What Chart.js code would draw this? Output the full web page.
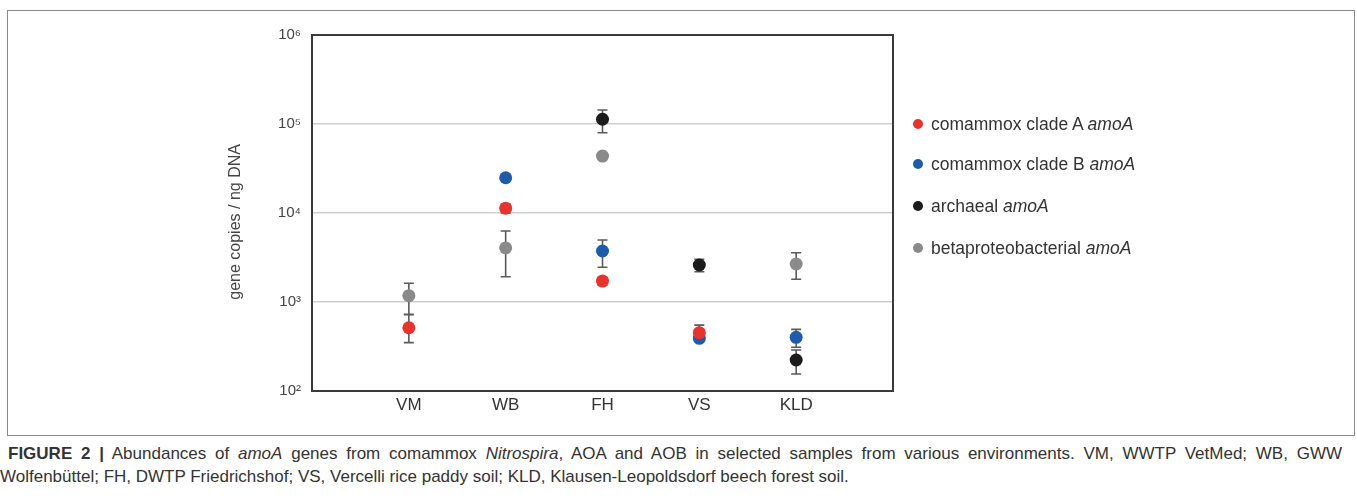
<!DOCTYPE html>
<html lang="en">
<head>
<meta charset="utf-8">
<title>amoA abundances</title>
<script src="https://cdn.jsdelivr.net/npm/chart.js@4/dist/chart.umd.min.js"></script>
<style>
    body { margin: 0; background: #fff; }
    #wrap { position: relative; width: 1357px; height: 502px; overflow: hidden;
            font-family: 'Liberation Sans', Arial, sans-serif; color: #333; }
    #frame { position: absolute; left: 7px; top: 10px; width: 1346px; height: 424px;
             border: 1.5px solid #8a8a8a; }
    #chart { position: absolute; left: 0; top: 0; }
    .leg { position: absolute; left: 913px; font-size: 17.5px; white-space: nowrap; color: #333; }
    .leg span.dot { display: inline-block; width: 10px; height: 10px; border-radius: 50%;
                    margin-right: 8px; vertical-align: 1px; }
    .cap { position: absolute; font-size: 17px; white-space: nowrap; color: #333; }
    #cap1 { left: 8px; top: 444px; width: 1334px; text-align: justify; text-align-last: justify; white-space: normal; }
    #cap2 { left: 0; top: 467px; }
</style>
</head>
<body>
<div id="wrap">
    <div id="frame"></div>
    <canvas id="chart" width="1357" height="440"></canvas>
    <div id="legend"></div>
    <div class="cap" id="cap1"><b>FIGURE 2 |</b> Abundances of <i>amoA</i> genes from comammox <i>Nitrospira</i>, AOA and AOB in selected samples from various environments. VM, WWTP VetMed; WB, GWW</div>
    <div class="cap" id="cap2">Wolfenbüttel; FH, DWTP Friedrichshof; VS, Vercelli rice paddy soil; KLD, Klausen-Leopoldsdorf beech forest soil.</div>
</div>

<script>
// sample sites
var categories = ['VM', 'WB', 'FH', 'VS', 'KLD'];

// gene copies / ng DNA (means, lower and upper ends of error bars)
var cladeA    = [514,  11300, 1720,   452,  null];
var cladeALow = [350,  10000, 1550,   400,  null];
var cladeAHigh= [720,  12600, 1900,   550,  null];

var cladeB    = [null, 24900, 3740,   391,  401];
var cladeBLow = [null, 24900, 2455,   370,  310];
var cladeBHigh= [null, 24900, 4980,   420,  493];

var archaeal    = [null, null, 113000, 2605, 223];
var archaealLow = [null, null, 79800,  2190, 155];
var archaealHigh= [null, null, 143600, 3020, 289];

var beta    = [1178, 4050, 43600, null, 2673];
var betaLow = [728,  1923, 40500, null, 1800];
var betaHigh= [1622, 6280, 47000, null, 3580];

var yTicks = [100, 1000, 10000, 100000, 1000000];
var yTickLabels = ['10²', '10³', '10⁴', '10⁵', '10⁶'];

var series = [
    { name: 'comammox clade A', color: '#e8322b', values: cladeA, low: cladeALow, high: cladeAHigh },
    { name: 'comammox clade B', color: '#1d5cab', values: cladeB, low: cladeBLow, high: cladeBHigh },
    { name: 'archaeal', color: '#1b1b1b', values: archaeal, low: archaealLow, high: archaealHigh },
    { name: 'betaproteobacterial', color: '#8a8a8a', values: beta, low: betaLow, high: betaHigh }
];

Chart.defaults.font.family = "'Liberation Sans', Arial, sans-serif";
Chart.defaults.color = '#333';

function toPoints(values) {
    var pts = [];
    values.forEach(function(v, i) {
        if (v !== null) pts.push({ x: i + 1, y: v });
    });
    return pts;
}

var errorBars = {
    id: 'errorBars',
    beforeDatasetsDraw: function(chart) {
        var ctx = chart.ctx, xs = chart.scales.x, ys = chart.scales.y;
        ctx.save();
        ctx.strokeStyle = '#5a5a5a';
        ctx.lineWidth = 1.6;
        series.forEach(function(s) {
            s.values.forEach(function(v, i) {
                if (v === null || s.low[i] === s.high[i]) return;
                var x = xs.getPixelForValue(i + 1);
                var y1 = ys.getPixelForValue(s.low[i]);
                var y2 = ys.getPixelForValue(s.high[i]);
                ctx.beginPath();
                ctx.moveTo(x, y1); ctx.lineTo(x, y2);
                ctx.moveTo(x - 5, y1); ctx.lineTo(x + 5, y1);
                ctx.moveTo(x - 5, y2); ctx.lineTo(x + 5, y2);
                ctx.stroke();
            });
        });
        ctx.restore();
    }
};

var plotBox = {
    id: 'plotBox',
    afterDraw: function(chart) {
        var a = chart.chartArea, ctx = chart.ctx;
        ctx.save();
        ctx.strokeStyle = '#3a3a3a';
        ctx.lineWidth = 2;
        ctx.strokeRect(a.left, a.top, a.right - a.left, a.bottom - a.top);
        ctx.restore();
    }
};

var ctx = document.getElementById('chart').getContext('2d');
var myChart = new Chart(ctx, {
    type: 'scatter',
    data: {
        datasets: series.map(function(s) {
            return {
                label: s.name,
                data: toPoints(s.values),
                backgroundColor: s.color,
                borderColor: s.color,
                borderWidth: 0,
                pointRadius: 6.5,
                pointHoverRadius: 6.5
            };
        })
    },
    options: {
        responsive: false,
        animation: false,
        layout: { padding: { left: 226, right: 464, top: 35, bottom: 19 } },
        plugins: { legend: { display: false }, tooltip: { enabled: false } },
        scales: {
            x: {
                type: 'linear', min: 0, max: 6,
                afterBuildTicks: function(scale) {
                    scale.ticks = categories.map(function(c, i) { return { value: i + 1 }; });
                },
                afterFit: function(scale) { scale.height = 30; },
                grid: { display: false, drawTicks: false },
                border: { display: false },
                ticks: {
                    padding: 4,
                    font: { size: 17 },
                    color: '#333',
                    callback: function(v) { return categories[v - 1] || ''; }
                }
            },
            y: {
                type: 'logarithmic', min: 100, max: 1000000,
                afterBuildTicks: function(scale) {
                    scale.ticks = yTicks.map(function(v) { return { value: v }; });
                },
                afterFit: function(scale) { scale.width = 86; },
                grid: { color: '#cfcfcf', lineWidth: 1.5, drawTicks: false },
                border: { display: false },
                ticks: {
                    padding: 11,
                    font: { size: 15 },
                    color: '#444',
                    callback: function(v) { return yTickLabels[yTicks.indexOf(v)]; }
                },
                title: {
                    display: true,
                    text: 'gene copies / ng DNA    ',
                    font: { size: 16 },
                    color: '#444',
                    padding: 0
                }
            }
        }
    },
    plugins: [errorBars, plotBox]
});

// legend with italic gene name
var legendTops = [114, 154, 196, 238];
var legend = document.getElementById('legend');
series.forEach(function(s, i) {
    var div = document.createElement('div');
    div.className = 'leg';
    div.style.top = legendTops[i] + 'px';
    div.innerHTML = '<span class="dot" style="background:' + s.color + '"></span>' + s.name + ' <i>amoA</i>';
    legend.appendChild(div);
});
</script>
</body>
</html>
